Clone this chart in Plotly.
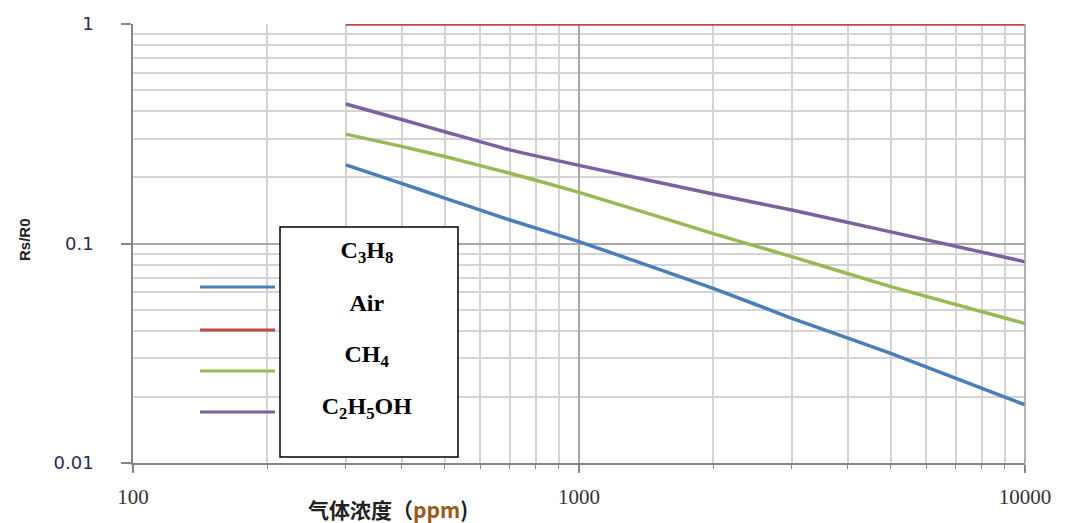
import plotly.graph_objects as go

# ---- data ----
conc = [300, 400, 500, 700, 1000, 2000, 3000, 5000, 10000]
c3h8 = [0.228, 0.188, 0.161, 0.128, 0.102, 0.0625, 0.0456, 0.0316, 0.0184]
air = [1, 1, 1, 1, 1, 1, 1, 1, 1]
ch4 = [0.315, 0.277, 0.249, 0.209, 0.171, 0.111, 0.0871, 0.0636, 0.0432]
c2h5oh = [0.432, 0.367, 0.323, 0.267, 0.227, 0.168, 0.142, 0.113, 0.0826]

series_names = ["C<sub>3</sub>H<sub>8</sub>", "Air", "CH<sub>4</sub>", "C<sub>2</sub>H<sub>5</sub>OH"]
series_vals = [c3h8, air, ch4, c2h5oh]
colors = ["#4a7ebb", "#be4b48", "#98b954", "#7d60a0"]

x_ticks = [100, 1000, 10000]
x_ticklabels = ["100", "1000", "10000"]
y_ticks = [0.01, 0.1, 1]
y_ticklabels = ["0.01", "0.1", "1"]

# page has an 8px body margin; figure sized to fill the 1078x523 window
OFF = 8
W, H = 1078 - OFF, 523 - OFF
PL, PR, PT, PB = 133, 1025, 24, 463  # plot area in page pixels
L, R, T, B = PL - OFF, W - (PR - OFF), PT - OFF, H - (PB - OFF)
pw, ph = PR - PL, PB - PT


def px_x(p):
    return (p - PL) / pw


def px_y(p):
    return (PB - p) / ph


fig = go.Figure()
for name, vals, col in zip(series_names, series_vals, colors):
    fig.add_trace(go.Scatter(x=conc, y=vals, mode="lines", name=name,
                             line=dict(color=col, width=3.5, shape="spline", smoothing=0.4),
                             cliponaxis=False, showlegend=False))

fig.update_layout(
    width=W, height=H,
    margin=dict(l=L, r=R, t=T, b=B, autoexpand=False),
    paper_bgcolor="white", plot_bgcolor="white",
    showlegend=False,
)

fig.update_xaxes(
    type="log", range=[2, 4], automargin=False,
    tickvals=x_ticks, ticktext=x_ticklabels,
    ticks="outside", ticklen=8, tickwidth=1.5, tickcolor="#868686",
    showline=True, linecolor="#868686", linewidth=1.5,
    showgrid=True, gridcolor="#a8a8a8", gridwidth=1.8,
    tickfont=dict(family="Liberation Serif", size=21, color="#333333"),
    ticklabelstandoff=6,
    minor=dict(dtick="D1", showgrid=True, gridcolor="#d4d4d4", gridwidth=1.8,
               ticks="outside", ticklen=4, tickcolor="#868686", tickwidth=1.2),
    zeroline=False,
)
fig.update_yaxes(
    type="log", range=[-2, 0], automargin=False,
    tickvals=y_ticks, ticktext=y_ticklabels,
    ticks="outside", ticklen=10, tickwidth=1.5, tickcolor="#868686",
    showline=True, linecolor="#868686", linewidth=1.5,
    showgrid=True, gridcolor="#a8a8a8", gridwidth=1.8,
    tickfont=dict(family="DejaVu Sans", size=18, color="#2a2a5a"),
    ticklabelstandoff=24,
    minor=dict(dtick="D1", showgrid=True, gridcolor="#d4d4d4", gridwidth=1.8, ticks=""),
    zeroline=False,
)

# right border line at 10000
fig.add_shape(type="line", xref="paper", yref="paper", x0=1, x1=1, y0=0, y1=1,
              line=dict(color="#9a9a9a", width=1.5))

# manual legend box
fig.add_shape(type="rect", xref="paper", yref="paper",
              x0=px_x(280), x1=px_x(458), y0=px_y(457), y1=px_y(227),
              line=dict(color="black", width=1.5), fillcolor="white", layer="above")
legend_line_y = [287, 330, 371, 412]
legend_text_y = [252, 303, 356, 408]
for name, col, ly, ty in zip(series_names, colors, legend_line_y, legend_text_y):
    fig.add_shape(type="line", xref="paper", yref="paper",
                  x0=px_x(200), x1=px_x(275), y0=px_y(ly), y1=px_y(ly),
                  line=dict(color=col, width=3))
    fig.add_annotation(xref="paper", yref="paper", x=px_x(367), y=px_y(ty),
                       xanchor="center", yanchor="middle", align="center",
                       width=170, height=34, valign="middle",
                       text="<b>" + name + "</b>", showarrow=False,
                       font=dict(family="Liberation Serif", size=24, color="black"))

# axis titles
fig.add_annotation(xref="paper", yref="paper", x=px_x(388), y=px_y(509),
                   xanchor="center", yanchor="middle",
                   text="<b>气体浓度（<span style='color:#9a5a18'>ppm</span>)</b>",
                   showarrow=False,
                   font=dict(family="Noto Sans CJK SC", size=21, color="#222222"))
fig.add_annotation(xref="paper", yref="paper", x=px_x(25), y=px_y(240),
                   xanchor="center", yanchor="middle",
                   text="<b>Rs/R0</b>", textangle=-90, showarrow=False,
                   font=dict(family="Liberation Sans", size=15, color="#222222"))

fig.write_html("out.html")
